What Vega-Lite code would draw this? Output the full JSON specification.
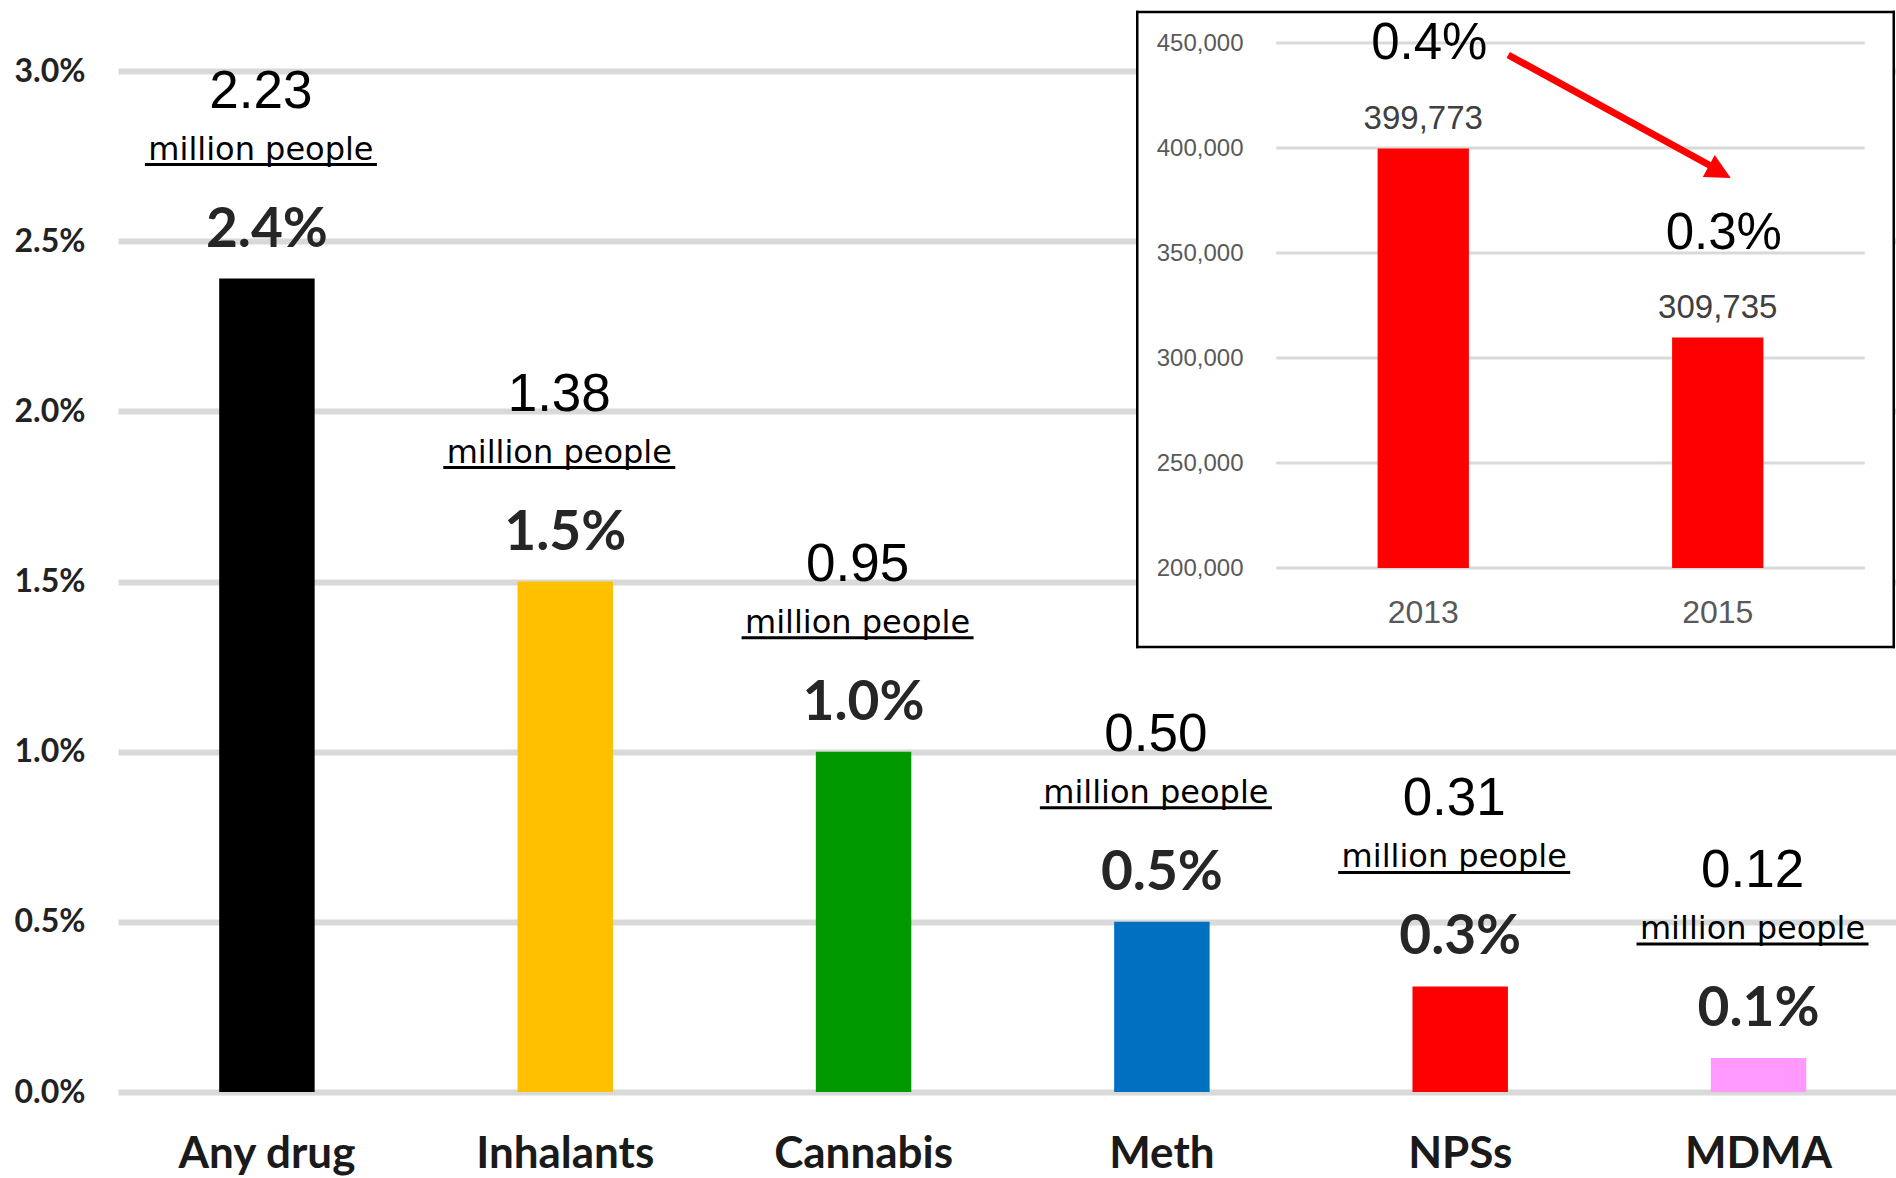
{
  "$schema": "https://vega.github.io/schema/vega-lite/v6.json",
  "width": 1778,
  "height": 1021,
  "autosize": {"type": "none"},
  "padding": {"left": 118, "top": 71, "right": 0, "bottom": 86},
  "background": "white",
  "config": {
    "view": {"stroke": null},
    "axis": {"domain": false, "ticks": false, "tickSize": 0, "title": null}
  },
  "datasets": {
    "main": [
      {"drug": "Any drug", "share": 0.0239, "million": 2.23},
      {"drug": "Inhalants", "share": 0.015, "million": 1.38},
      {"drug": "Cannabis", "share": 0.01, "million": 0.95},
      {"drug": "Meth", "share": 0.005, "million": 0.50},
      {"drug": "NPSs", "share": 0.0031, "million": 0.31},
      {"drug": "MDMA", "share": 0.001, "million": 0.12}
    ],
    "inset": [
      {"year": "2013", "count": 399773, "share": 0.004},
      {"year": "2015", "count": 309735, "share": 0.003}
    ],
    "insetTicks": [
      {"tick": 200000}, {"tick": 250000}, {"tick": 300000},
      {"tick": 350000}, {"tick": 400000}, {"tick": 450000}
    ],
    "arrow": [
      {"from": "2013", "to": "2015", "fromCount": 399773, "toCount": 309735}
    ]
  },
  "layer": [
    {
      "data": {"name": "main"},
      "encoding": {
        "x": {
          "field": "drug", "type": "nominal", "sort": null,
          "scale": {"paddingInner": 0.68, "paddingOuter": 0.32, "align": 0.53},
          "axis": {
            "orient": "bottom", "labelFont": "Lato", "labelFontWeight": "bold",
            "labelFontSize": 44, "labelColor": "#1a1a1a", "labelPadding": 62,
            "labelBaseline": "middle", "labelAngle": 0, "grid": false, "title": null
          }
        },
        "y": {
          "field": "share", "type": "quantitative",
          "scale": {"domain": [0, 0.03], "nice": false},
          "axis": {
            "orient": "left",
            "values": [0, 0.005, 0.01, 0.015, 0.02, 0.025, 0.03],
            "format": ".1%", "labelFont": "Lato", "labelFontWeight": "bold",
            "labelFontSize": 32, "labelColor": "#222222", "labelPadding": 33,
            "grid": true, "gridColor": "#d9d9d9", "gridWidth": 6, "title": null
          }
        }
      },
      "layer": [
        {
          "mark": {"type": "bar"},
          "encoding": {
            "color": {
              "field": "drug", "type": "nominal",
              "scale": {
                "domain": ["Any drug", "Inhalants", "Cannabis", "Meth", "NPSs", "MDMA"],
                "range": ["#000000", "#FFC000", "#009900", "#0070C0", "#FF0000", "#FF99FF"]
              },
              "legend": null
            }
          }
        },
        {
          "mark": {"type": "text", "font": "Liberation Sans", "fontSize": 53, "baseline": "alphabetic", "yOffset": -171, "xOffset": -6, "color": "#000000"},
          "encoding": {"text": {"field": "million", "type": "quantitative", "format": ".2f"}}
        },
        {
          "mark": {"type": "text", "font": "DejaVu Sans", "fontSize": 32, "baseline": "alphabetic", "yOffset": -119, "xOffset": -6, "color": "#000000"},
          "encoding": {"text": {"value": "million people"}}
        },
        {
          "mark": {"type": "tick", "orient": "horizontal", "size": 232, "thickness": 3, "color": "#000000", "opacity": 1, "yOffset": -114, "xOffset": -6}
        },
        {
          "mark": {"type": "text", "font": "Lato", "fontWeight": "bold", "fontSize": 55, "baseline": "alphabetic", "yOffset": -32, "color": "#262626"},
          "encoding": {"text": {"field": "share", "type": "quantitative", "format": ".1%"}}
        }
      ]
    },
    {
      "data": {"name": "inset"},
      "encoding": {
        "x": {
          "field": "year", "type": "nominal", "sort": null,
          "scale": {"range": [1158, 1747], "paddingInner": 0.69, "paddingOuter": 0.345},
          "axis": {
            "orient": "bottom", "offset": -524, "labelFont": "Liberation Sans",
            "labelFontSize": 32, "labelColor": "#595959", "labelPadding": 44,
            "labelBaseline": "middle", "labelAngle": 0, "grid": false, "zindex": 1, "title": null
          }
        },
        "y": {
          "field": "count", "type": "quantitative",
          "scale": {"domain": [200000, 450000], "range": [497, -28], "nice": false, "zero": false},
          "axis": {
            "orient": "left", "offset": -1135,
            "values": [200000, 250000, 300000, 350000, 400000, 450000],
            "format": ",", "labelExpr": "format(datum.value, ',')",
            "labelFont": "Liberation Sans", "labelFontSize": 24,
            "labelColor": "#595959", "labelPadding": 10, "grid": false, "zindex": 1, "title": null
          }
        }
      },
      "layer": [
        {
          "data": {"name": "insetTicks"},
          "transform": [{"filter": "datum.tick == 300000"}],
          "mark": {"type": "rule", "color": "#ffffff", "strokeWidth": 635, "xOffset": -286, "x2Offset": 176, "yOffset": -28.5},
          "encoding": {
            "x": {"datum": "2013"},
            "x2": {"datum": "2015"},
            "y": {"field": "tick", "type": "quantitative"}
          }
        },
        {
          "data": {"name": "insetTicks"},
          "mark": {"type": "rule", "color": "#d9d9d9", "strokeWidth": 3, "xOffset": -147, "x2Offset": 147},
          "encoding": {
            "x": {"datum": "2013"},
            "x2": {"datum": "2015"},
            "y": {"field": "tick", "type": "quantitative"}
          }
        },
        {
          "mark": {"type": "bar", "color": "#FF0000"},
          "encoding": {"y2": {"datum": 200000}}
        },
        {
          "mark": {"type": "text", "font": "Liberation Sans", "fontSize": 33, "baseline": "middle", "yOffset": -29.5, "color": "#404040"},
          "encoding": {"text": {"field": "count", "type": "quantitative", "format": ","}}
        },
        {
          "mark": {"type": "text", "font": "Liberation Sans", "fontSize": 51, "baseline": "middle", "yOffset": -104, "xOffset": 6, "color": "#000000"},
          "encoding": {"text": {"field": "share", "type": "quantitative", "format": ".1%"}}
        },
        {
          "data": {"name": "arrow"},
          "mark": {"type": "rule", "color": "#FF0000", "strokeWidth": 7, "xOffset": 85, "yOffset": -93.5, "x2Offset": -5, "y2Offset": -170.6},
          "encoding": {
            "x": {"field": "from", "type": "nominal"},
            "x2": {"field": "to"},
            "y": {"field": "fromCount", "type": "quantitative"},
            "y2": {"field": "toCount"}
          }
        },
        {
          "data": {"name": "arrow"},
          "mark": {"type": "point", "shape": "M1,0L-1,-1L-1,1Z", "size": 625, "filled": true, "color": "#FF0000", "opacity": 1, "angle": 28.5, "xOffset": 2, "yOffset": -165.6},
          "encoding": {
            "x": {"field": "to", "type": "nominal"},
            "y": {"field": "toCount", "type": "quantitative"}
          }
        },
        {
          "data": {"name": "insetTicks"},
          "transform": [{"filter": "datum.tick == 450000"}],
          "mark": {"type": "rule", "color": "#000000", "strokeWidth": 2.5, "strokeCap": "square", "xOffset": -286, "x2Offset": 176, "yOffset": -31},
          "encoding": {
            "x": {"datum": "2013"},
            "x2": {"datum": "2015"},
            "y": {"field": "tick", "type": "quantitative"}
          }
        },
        {
          "data": {"name": "insetTicks"},
          "transform": [{"filter": "datum.tick == 200000"}],
          "mark": {"type": "rule", "color": "#000000", "strokeWidth": 2.5, "strokeCap": "square", "xOffset": -286, "x2Offset": 176, "yOffset": 79},
          "encoding": {
            "x": {"datum": "2013"},
            "x2": {"datum": "2015"},
            "y": {"field": "tick", "type": "quantitative"}
          }
        },
        {
          "data": {"name": "insetTicks"},
          "transform": [{"filter": "datum.tick == 450000"}],
          "mark": {"type": "rule", "color": "#000000", "strokeWidth": 2.5, "strokeCap": "square", "xOffset": -286, "yOffset": -31, "y2Offset": 79},
          "encoding": {
            "x": {"datum": "2013"},
            "y": {"field": "tick", "type": "quantitative"},
            "y2": {"datum": 200000}
          }
        },
        {
          "data": {"name": "insetTicks"},
          "transform": [{"filter": "datum.tick == 450000"}],
          "mark": {"type": "rule", "color": "#000000", "strokeWidth": 2.5, "strokeCap": "square", "xOffset": 176, "yOffset": -31, "y2Offset": 79},
          "encoding": {
            "x": {"datum": "2015"},
            "y": {"field": "tick", "type": "quantitative"},
            "y2": {"datum": 200000}
          }
        }
      ]
    }
  ],
  "resolve": {"scale": {"x": "independent", "y": "independent", "color": "independent"}}
}
